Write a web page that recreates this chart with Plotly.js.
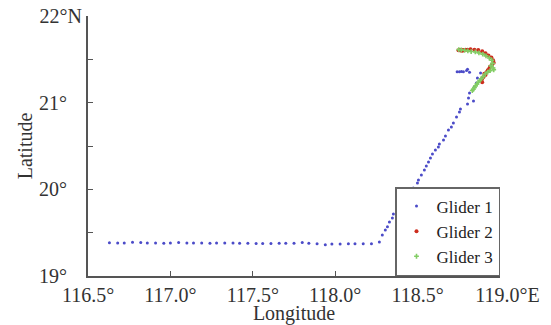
<!DOCTYPE html>
<html>
<head>
<meta charset="utf-8">
<script src="https://cdn.plot.ly/plotly-3.0.1.min.js"></script>
<style>html,body{margin:0;padding:0;background:#fff;}#chart{width:551px;height:325px;}</style>
</head>
<body>
<div id="chart"></div>
<script>
// Glider 1 track
const g1Lon = [116.63,116.68,116.72,116.77,116.82,116.86,116.91,116.96,117.00,117.05,117.10,117.14,117.19,117.24,117.28,117.33,117.38,117.42,117.47,117.52,117.56,117.61,117.66,117.70,117.75,117.80,117.84,117.89,117.94,117.98,118.03,118.08,118.12,118.17,118.22,
  118.268,118.286,118.304,118.317,118.329,118.347,118.353,118.377,118.383,118.408,118.426,118.432,118.456,118.474,118.499,118.505,118.523,118.541,118.553,118.566,118.578,118.590,118.608,118.626,118.632,118.657,118.669,118.687,118.705,118.717,118.736,118.754,118.760,118.803,118.809,118.839,118.815,118.845,118.857,118.863,118.882,
  118.740,118.754,118.766,118.778,118.797,118.803,118.815];
const g1Lat = [19.385,19.380,19.381,19.388,19.386,19.380,19.381,19.379,19.381,19.387,19.380,19.380,19.381,19.379,19.380,19.381,19.382,19.379,19.378,19.376,19.375,19.374,19.377,19.378,19.379,19.386,19.378,19.372,19.362,19.368,19.370,19.371,19.372,19.371,19.372,
  19.393,19.474,19.532,19.567,19.624,19.670,19.716,19.728,19.762,19.820,19.878,19.924,19.958,20.016,20.074,20.108,20.166,20.224,20.270,20.316,20.362,20.408,20.454,20.489,20.524,20.570,20.616,20.685,20.720,20.766,20.835,20.893,20.927,20.985,21.054,21.020,21.112,21.181,21.227,21.285,21.343,
  21.358,21.358,21.360,21.358,21.370,21.385,21.352];
// Glider 2 track
const g2Lon = [118.748,118.754,118.760,118.766,118.772,118.778,118.790,118.803,118.821,118.845,118.868,118.892,118.912,118.930,118.948,118.958,118.962,118.952,118.940,118.935,118.926,118.918,118.905,118.912,118.900,118.892,118.886,118.892];
const g2Lat = [21.605,21.608,21.603,21.606,21.600,21.607,21.610,21.612,21.616,21.612,21.608,21.592,21.570,21.545,21.520,21.490,21.462,21.438,21.418,21.395,21.375,21.350,21.335,21.318,21.295,21.275,21.255,21.235];
// Glider 3 track
const g3Lon = [118.750,118.765,118.785,118.805,118.825,118.850,118.872,118.895,118.915,118.935,118.950,118.955,118.945,118.958,118.962,118.940,118.925,118.910,118.898,118.885,118.878,118.868,118.860,118.852,118.845,118.838,118.832];
const g3Lat = [21.612,21.610,21.604,21.598,21.590,21.585,21.575,21.560,21.540,21.515,21.490,21.455,21.425,21.400,21.380,21.370,21.352,21.330,21.300,21.275,21.255,21.235,21.215,21.195,21.175,21.155,21.140];

const xTickVals = [116.5,117.0,117.5,118.0,118.5,119.0];
const xTickText = ['116.5°','117.0°','117.5°','118.0°','118.5°','\u00a0\u00a0\u00a0119.0°E'];
const yTickVals = [19,19.5,20,20.5,21,21.5,22];
const yTickText = ['19°\u00a0\u00a0\u00a0','','20°\u00a0\u00a0\u00a0','','21°\u00a0\u00a0\u00a0','','22°N'];
const names = ['Glider 1','Glider 2','Glider 3'];

const FONT = '"Liberation Serif", "Times New Roman", Times, serif';
const traces = [
  {x:g1Lon, y:g1Lat, name:names[0], type:'scatter', mode:'markers', marker:{color:'rgb(75,75,200)', size:3}},
  {x:g2Lon, y:g2Lat, name:names[1], type:'scatter', mode:'markers', marker:{color:'rgb(205,45,30)', size:4}},
  {x:g3Lon, y:g3Lat, name:names[2], type:'scatter', mode:'markers', marker:{color:'rgb(130,205,100)', size:4, symbol:'cross'}}
];
const axisCommon = {showline:true, linecolor:'#555', linewidth:2, ticks:'inside', ticklen:5, tickcolor:'#555', tickwidth:1, showgrid:false, zeroline:false, mirror:false,
  tickfont:{family:FONT, size:20, color:'#333'}};
const layout = {
  width:551, height:325,
  margin:{l:88, r:51, t:16, b:49},
  paper_bgcolor:'#fff', plot_bgcolor:'#fff',
  showlegend:true,
  font:{family:FONT, size:20, color:'#333'},
  xaxis:Object.assign({}, axisCommon, {range:[116.5,119.0], tickmode:'array', tickvals:xTickVals, ticktext:xTickText,
    title:{text:'Longitude', font:{family:FONT, size:20, color:'#333'}, standoff:0}}),
  yaxis:Object.assign({}, axisCommon, {range:[19,22], tickmode:'array', tickvals:yTickVals, ticktext:yTickText,
    title:{text:'Latitude', font:{family:FONT, size:20, color:'#333'}, standoff:1}}),
  legend:{x:1, xanchor:'right', y:0, yanchor:'bottom', bgcolor:'#fff', bordercolor:'#666', borderwidth:1.5,
    font:{family:FONT, size:17, color:'#222'}, itemwidth:30, tracegroupgap:0}
};
Plotly.newPlot('chart', traces, layout, {staticPlot:true, displayModeBar:false});
</script>
</body>
</html>
